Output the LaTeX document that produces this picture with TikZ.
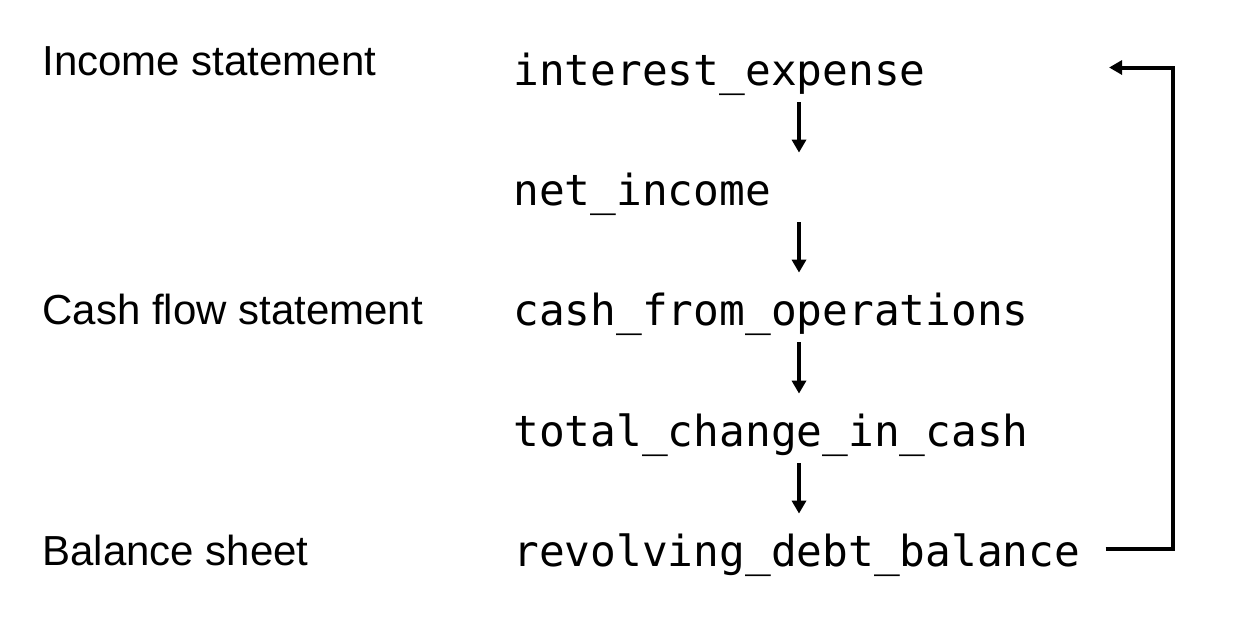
\documentclass[tikz,border=0pt]{standalone}
\usepackage{fontspec}
\setmainfont{Liberation Sans}
\setmonofont{DejaVu Sans Mono}
\usetikzlibrary{arrows.meta}

\begin{document}
\begin{tikzpicture}[x=0.5pt,y=-0.5pt,
  var/.style={font=\ttfamily\fontsize{21.4}{26}\selectfont, inner sep=0pt,
    text height=26pt, text depth=8.5pt, anchor=base west},
  lbl/.style={font=\fontsize{21}{26}\selectfont, inner sep=0pt, anchor=base west},
  flow/.style={line width=2pt, -{Triangle[length=6.5pt,width=7pt]}}]
\useasboundingbox (0,0) rectangle (1258,638);

% statements
\node[lbl] (inc) at (42,75) {Income statement};
\node[lbl] (cfs) at (42,324) {Cash flow statement};
\node[lbl] (bal) at (42,565) {Balance sheet};

% variables
\node[var] (ie) at (513,85) {interest\_expense};
\node[var] (ni) at (513,205) {net\_income};
\node[var] (cfo) at (513,325) {cash\_from\_operations};
\node[var] (tcc) at (513,446) {total\_change\_in\_cash};
\node[var] (rdb) at (513,566) {revolving\_debt\_balance};

\coordinate (col) at (799,0);
\coordinate (ret) at (1173,0);

\foreach \from/\to in {ie/ni,ni/cfo,cfo/tcc,tcc/rdb}
	\draw[flow] (\from.south -| col) -- (\to.north -| col);

% loop back
\draw[flow] ([xshift=12.5pt]rdb.east) -- (rdb.east -| ret)
	-- (ie.east -| ret) -- ([xshift=91.5pt]ie.east);
\end{tikzpicture}
\end{document}
